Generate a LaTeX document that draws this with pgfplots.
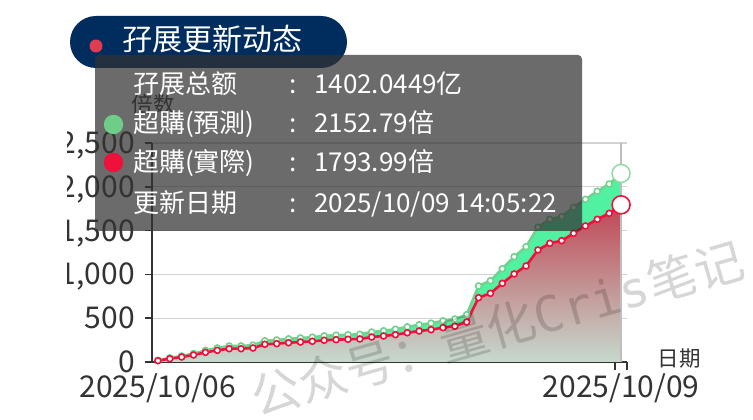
\documentclass[border=0pt]{standalone}
\usepackage{fontspec}
\setmainfont{Noto Sans CJK SC}
\newfontfamily\wmmono{DejaVu Sans Mono}
\usepackage{pgfplots}
\usepackage{pgfplotstable}
\pgfplotsset{compat=1.18}

\definecolor{navy}{RGB}{0,45,94}
\definecolor{titledot}{RGB}{225,60,80}
\definecolor{tipbg}{RGB}{50,50,50}
\definecolor{greenline}{RGB}{112,210,140}
\definecolor{greendot}{RGB}{110,205,135}
\definecolor{mint}{RGB}{80,242,162}
\definecolor{redline}{RGB}{240,16,60}
\definecolor{redtop}{RGB}{192,70,84}
\definecolor{redbot}{RGB}{198,218,206}
\definecolor{axisgray}{RGB}{51,51,51}
\definecolor{gridgray}{RGB}{210,210,210}
\definecolor{pointer}{RGB}{190,190,190}

% i = sample index, pred = 超購(預測), act = 超購(實際)
\pgfplotstableread{
i pred act
0 18 15
1 46 38
2 68 57
3 96 80
4 132 110
5 160 133
6 182 152
7 183 152
8 192 160
9 242 202
10 251 209
11 264 220
12 274 228
13 283 236
14 298 248
15 306 255
16 311 259
17 316 263
18 342 285
19 356 297
20 374 312
21 401 334
22 425 354
23 443 369
24 470 392
25 490 408
26 540 457
27 868 734
28 928 784
29 1065 898
30 1202 1005
31 1316 1096
32 1538 1279
33 1629 1355
34 1659 1385
35 1766 1469
36 1857 1553
37 1949 1629
38 2032 1697
39 2152.79 1793.99
}\subdata

\begin{document}
\begin{tikzpicture}
\useasboundingbox (0,0) rectangle (753pt,420pt);
\fill[white] (0,0) rectangle (753pt,420pt);

\begin{axis}[
    at={(152pt,58pt)}, anchor=south west,
    scale only axis, width=475pt, height=219pt,
    xmin=-0.5, xmax=39.5, ymin=0, ymax=2500,
    clip=false,
    axis x line*=bottom, axis y line*=left,
    axis line style={draw=axisgray, line width=1.5pt},
    xtick={0,39}, xticklabels={2025/10/06,2025/10/09},
    ytick={0,500,...,2500},
    xtick style={draw=none},
    ytick style={draw=axisgray, line width=1.5pt},
    tick align=outside, major tick length=7pt,
    ymajorgrids, grid style={draw=gridgray, line width=1.2pt},
    ticklabel style={font=\fontsize{30}{30}\selectfont, text=axisgray},
    yticklabel style={inner sep=0pt, xshift=-10pt, text height=21pt, text depth=0pt},
    xticklabel style={inner sep=0pt, yshift=-7pt, text height=21pt, text depth=0pt},
    /pgf/number format/assume math mode=true,
    /pgf/number format/1000 sep={,},
    scaled y ticks=false,
]
\addplot[draw=none, fill=mint] table[x=i, y=pred] {\subdata} \closedcycle;
\addplot[draw=none, top color=redtop, bottom color=redbot] table[x=i, y=act] {\subdata} \closedcycle;
\draw[pointer, line width=2pt] (axis cs:39,0) -- (axis cs:39,2500);
\addplot[greenline, line width=2.6pt, mark=*, mark size=3pt,
    mark options={fill=white, draw=greenline, line width=1.6pt}]
    table[x=i, y=pred] {\subdata};
\addplot[redline, line width=2.6pt, mark=*, mark size=3pt,
    mark options={fill=white, draw=redline, line width=1.6pt}]
    table[x=i, y=act] {\subdata};
% hovered point
\addplot[only marks, mark=*, mark size=9pt,
    mark options={fill=white, draw=greenline!80!white, line width=1.5pt}]
    coordinates {(39,2152.79)};
\addplot[only marks, mark=*, mark size=9pt,
    mark options={fill=white, draw=redline, line width=1.6pt}]
    coordinates {(39,1793.99)};
\draw[axisgray, line width=1.5pt] (axis cs:38.5,0) -- ++(0pt,-8pt);
\draw[axisgray, line width=1.5pt] (axis cs:39.5,0) -- ++(0pt,-8pt);
\end{axis}

% overlay, in pixel coordinates (y down)
\begin{scope}[x=1pt, y=-1pt, yshift=420pt]
\node[font=\fontsize{21.5}{21.5}\selectfont, text=axisgray] at (153,104) {倍数};
\node[font=\fontsize{21.5}{21.5}\selectfont, text=axisgray] at (679,359) {日期};

% watermark
\node[rotate=16, text=black, text opacity=0.16, font=\fontsize{49}{49}\selectfont]
    at (497,328) {公众号：量化{\wmmono Cris}笔记};

% left edge of the container
\fill[white] (0,0) rectangle (67,420);

% title badge
\fill[navy, rounded corners=26pt] (70,16) rectangle (347,68);
\fill[titledot] (96,46) circle (6.5pt);
\node[anchor=base west, inner sep=0pt, text=white, font=\fontsize{30}{30}\selectfont]
    at (122,51) {孖展更新动态};

% tooltip
\fill[tipbg, opacity=0.72, rounded corners=4pt] (95,55) rectangle (582,231);
\fill[greendot] (113.5,124.5) circle (9.7pt);
\fill[redline] (113.5,162.5) circle (9.7pt);
\begin{scope}[every node/.style={inner sep=0pt, text=white, font=\fontsize{26}{26}\selectfont}]
\node[anchor=base west] at (133,93.5) {孖展总额};
\node[anchor=base west] at (133,133) {超購(預測)};
\node[anchor=base west] at (133,172) {超購(實際)};
\node[anchor=base west] at (133,213) {更新日期};
\node[anchor=base] at (293,93.5) {:};
\node[anchor=base] at (293,133) {:};
\node[anchor=base] at (293,172) {:};
\node[anchor=base] at (293,213) {:};
\node[anchor=base west] at (314,93.5) {1402.0449亿};
\node[anchor=base west] at (314,133) {2152.79倍};
\node[anchor=base west] at (314,172) {1793.99倍};
\node[anchor=base west] at (314,213) {2025/10/09 14:05:22};
\end{scope}
\end{scope}
\end{tikzpicture}
\end{document}
